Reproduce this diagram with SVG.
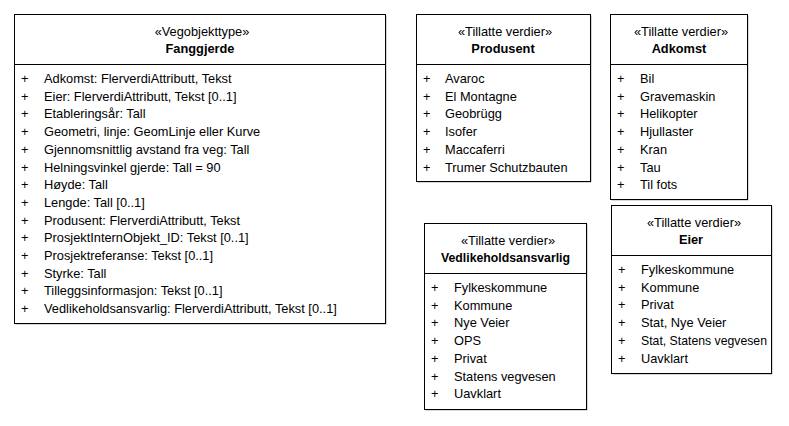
<svg xmlns="http://www.w3.org/2000/svg" width="789" height="426" viewBox="0 0 789 426">
<style>
.box{fill:#fff;stroke:#000;stroke-width:1}
.sh{fill:#b0b0b0}
.div{stroke:#000;stroke-width:1}
text{font-family:"Liberation Sans",Arial,sans-serif;font-size:12.8px;fill:#000}
.st{text-anchor:middle}
.nm{text-anchor:middle;font-weight:bold}
</style>
<rect width="789" height="426" fill="#fff"/>
<g id="connectors"/>
<g id="Fanggjerde">
<rect class="sh" x="15.5" y="15.5" width="371" height="309"/>
<rect class="box" x="14.5" y="14.5" width="371" height="309"/>
<line class="div" x1="14.5" y1="64.5" x2="385.5" y2="64.5"/>
<text class="st" x="202" y="36">«Vegobjekttype»</text>
<text class="nm" x="200" y="53">Fanggjerde</text>
<g>
<text x="21" y="83">+</text><text x="44" y="83">Adkomst: FlerverdiAttributt, Tekst</text>
<text x="21" y="100.7">+</text><text x="44" y="100.7">Eier: FlerverdiAttributt, Tekst [0..1]</text>
<text x="21" y="118.4">+</text><text x="44" y="118.4">Etableringsår: Tall</text>
<text x="21" y="136.1">+</text><text x="44" y="136.1">Geometri, linje: GeomLinje eller Kurve</text>
<text x="21" y="153.8">+</text><text x="44" y="153.8">Gjennomsnittlig avstand fra veg: Tall</text>
<text x="21" y="171.5">+</text><text x="44" y="171.5">Helningsvinkel gjerde: Tall = 90</text>
<text x="21" y="189.2">+</text><text x="44" y="189.2">Høyde: Tall</text>
<text x="21" y="206.9">+</text><text x="44" y="206.9">Lengde: Tall [0..1]</text>
<text x="21" y="224.6">+</text><text x="44" y="224.6">Produsent: FlerverdiAttributt, Tekst</text>
<text x="21" y="242.3">+</text><text x="44" y="242.3">ProsjektInternObjekt_ID: Tekst [0..1]</text>
<text x="21" y="260">+</text><text x="44" y="260">Prosjektreferanse: Tekst [0..1]</text>
<text x="21" y="277.7">+</text><text x="44" y="277.7">Styrke: Tall</text>
<text x="21" y="295.4">+</text><text x="44" y="295.4">Tilleggsinformasjon: Tekst [0..1]</text>
<text x="21" y="313.1">+</text><text x="44" y="313.1">Vedlikeholdsansvarlig: FlerverdiAttributt, Tekst [0..1]</text>
</g>
</g>
<g id="Produsent">
<rect class="sh" x="417.5" y="15.5" width="174" height="167"/>
<rect class="box" x="416.5" y="14.5" width="174" height="167"/>
<line class="div" x1="416.5" y1="64.5" x2="590.5" y2="64.5"/>
<text class="st" x="505" y="36">«Tillatte verdier»</text>
<text class="nm" x="503" y="53">Produsent</text>
<text x="423" y="83">+</text><text x="445" y="83">Avaroc</text>
<text x="423" y="100.7">+</text><text x="445" y="100.7">El Montagne</text>
<text x="423" y="118.4">+</text><text x="445" y="118.4">Geobrügg</text>
<text x="423" y="136.1">+</text><text x="445" y="136.1">Isofer</text>
<text x="423" y="153.8">+</text><text x="445" y="153.8">Maccaferri</text>
<text x="423" y="171.5">+</text><text x="445" y="171.5">Trumer Schutzbauten</text>
</g>
<g id="Adkomst">
<rect class="sh" x="611.5" y="15.5" width="137" height="185"/>
<rect class="box" x="610.5" y="14.5" width="137" height="185"/>
<line class="div" x1="610.5" y1="64.5" x2="747.5" y2="64.5"/>
<text class="st" x="681" y="36">«Tillatte verdier»</text>
<text class="nm" x="679" y="53">Adkomst</text>
<text x="617" y="83">+</text><text x="640" y="83">Bil</text>
<text x="617" y="100.7">+</text><text x="640" y="100.7">Gravemaskin</text>
<text x="617" y="118.4">+</text><text x="640" y="118.4">Helikopter</text>
<text x="617" y="136.1">+</text><text x="640" y="136.1">Hjullaster</text>
<text x="617" y="153.8">+</text><text x="640" y="153.8">Kran</text>
<text x="617" y="171.5">+</text><text x="640" y="171.5">Tau</text>
<text x="617" y="189.2">+</text><text x="640" y="189.2">Til fots</text>
</g>
<g id="Eier">
<rect class="sh" x="612.5" y="206.5" width="160" height="168"/>
<rect class="box" x="611.5" y="205.5" width="160" height="168"/>
<line class="div" x1="611.5" y1="255.5" x2="771.5" y2="255.5"/>
<text class="st" x="694" y="226.5">«Tillatte verdier»</text>
<text class="nm" x="691" y="243.5">Eier</text>
<text x="618" y="274">+</text><text x="641" y="274">Fylkeskommune</text>
<text x="618" y="291.7">+</text><text x="641" y="291.7">Kommune</text>
<text x="618" y="309.4">+</text><text x="641" y="309.4">Privat</text>
<text x="618" y="327.1">+</text><text x="641" y="327.1">Stat, Nye Veier</text>
<text x="618" y="344.8">+</text><text x="641" y="344.8" textLength="126" lengthAdjust="spacingAndGlyphs">Stat, Statens vegvesen</text>
<text x="618" y="362.5">+</text><text x="641" y="362.5">Uavklart</text>
</g>
<g id="Vedlikeholdsansvarlig">
<rect class="sh" x="425.5" y="224.5" width="162" height="186"/>
<rect class="box" x="424.5" y="223.5" width="162" height="186"/>
<line class="div" x1="424.5" y1="273.5" x2="586.5" y2="273.5"/>
<text class="st" x="508" y="244.5">«Tillatte verdier»</text>
<text class="nm" x="505.5" y="261.5" textLength="129" lengthAdjust="spacingAndGlyphs">Vedlikeholdsansvarlig</text>
<text x="431" y="292">+</text><text x="454" y="292">Fylkeskommune</text>
<text x="431" y="309.7">+</text><text x="454" y="309.7">Kommune</text>
<text x="431" y="327.4">+</text><text x="454" y="327.4">Nye Veier</text>
<text x="431" y="345.1">+</text><text x="454" y="345.1">OPS</text>
<text x="431" y="362.8">+</text><text x="454" y="362.8">Privat</text>
<text x="431" y="380.5">+</text><text x="454" y="380.5">Statens vegvesen</text>
<text x="431" y="398.2">+</text><text x="454" y="398.2">Uavklart</text>
</g>
</svg>
